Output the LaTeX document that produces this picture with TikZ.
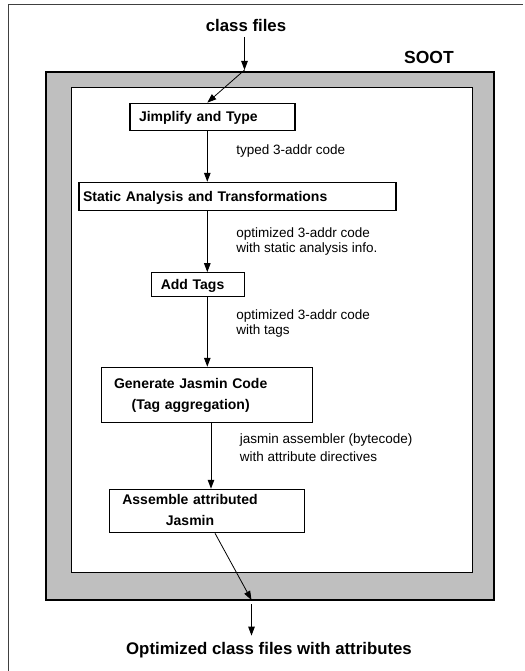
\documentclass[tikz,border=0pt]{standalone}
\usepackage{fontspec}
\setmainfont{Liberation Sans}
\usetikzlibrary{positioning,calc,arrows.meta}
\newcommand\headfont{\fontsize{16.8}{20}\selectfont\bfseries}
\newcommand\sootfont{\fontsize{17.5}{21}\selectfont\bfseries}
\newcommand\stagefont{\fontsize{14}{21}\selectfont\bfseries}
\newcommand\notefont{\fontsize{13.5}{15.5}\selectfont}
\newcommand\widenotefont{\fontsize{13.5}{18}\selectfont}
\definecolor{sootgray}{gray}{0.75}
\tikzset{
  >={Triangle[length=9pt,width=6.5pt]},
  my frame/.style={draw=black!75,line width=1pt},
  my shell/.style={draw,line width=1.5pt,fill=sootgray,inner sep=0pt},
  my core/.style={draw,line width=1pt,fill=white,inner sep=0pt},
  my stage/.style={
    draw,
    rectangle,
    line width=1.1pt,
    inner ysep=0pt,
    align=left,
    font=\stagefont
  },
  my flat/.style={my stage,text height=10.5pt,text depth=0pt},
  my note/.style={inner sep=0pt,align=left,anchor=base west,font=\notefont},
  my head/.style={inner sep=0pt,anchor=base,font=\headfont},
  my flow/.style={->,line width=1pt},
  my slant/.style={->,line width=0.8pt}
}
\begin{document}
\begin{tikzpicture}[x=1pt,y=-1pt]
\useasboundingbox (0,0) rectangle (524,671);
% page edge
\draw[my frame] (8,671) -- (8,5) -- (523,5);
% SOOT shell
\node[my shell,minimum width=448pt,minimum height=528pt] (soot) at (270,336) {};
\node[my core,minimum width=401pt,minimum height=484pt] (core) at (271.5,330) {};
\node[inner sep=0pt,anchor=base west,font=\sootfont] (sootname) at (404,64) {SOOT};
\coordinate (spine) at (207.3,0);
\coordinate (spine2) at (211,0);
% Input
\node[my head,inner sep=5pt] (cls) at (246,31.5) {class files};
\coordinate (entry) at (244.5,70);
\draw[my flow] (cls.south -| entry) -- (entry);
% Jimplify
\node[my flat,text width=147pt,inner xsep=9pt,minimum height=27pt] (jimp) at (212.5,116.7) {Jimplify and Type};
\draw[my slant] (entry) -- (jimp.north -| spine);
% Static analysis
\node[my flat,text width=309pt,inner xsep=4pt,minimum height=27.7pt] (stat) at (237.5,196.2) {Static Analysis and Transformations};
\draw[my flow] (jimp.south -| spine) -- node[my note,xshift=28.5pt,yshift=2pt] {typed 3-addr code} (stat.north -| spine);
% Tags
\node[my flat,text width=74pt,inner xsep=9.5pt,minimum height=24pt] (tags) at (197.8,284.7) {Add Tags};
\draw[my flow] (stat.south -| spine) -- node[my note,xshift=28.5pt,yshift=-11.5pt] {optimized 3-addr code\\with static analysis info.} (tags.north -| spine);
% Jasmin generation
\node[my stage,text width=185.3pt,inner xsep=13pt,minimum height=55pt] (gen) at (206.7,394.8) {\begin{tabular}{@{}c@{}}Generate Jasmin Code\\(Tag aggregation)\end{tabular}};
\draw[my flow] (tags.south -| spine) -- node[my note,xshift=28.5pt,yshift=-2.8pt] {optimized 3-addr code\\with tags} (gen.north -| spine);
% Assembly
\node[my stage,text width=168.7pt,inner xsep=13pt,minimum height=43.4pt] (asm) at (206.7,511) {\begin{tabular}{@{}c@{}}Assemble attributed\\Jasmin\end{tabular}};
\draw[my flow] (gen.south -| spine2) -- node[my note,font=\widenotefont,xshift=28.3pt,yshift=-5.2pt] {jasmin assembler (bytecode)\\with attribute directives} (asm.north -| spine2);
% Output
\coordinate (exit) at (251.5,600);
\draw[my slant] ([xshift=8.3pt]asm.south) -- (exit);
\node[my head,inner sep=6pt] (out) at (269,654) {Optimized class files with attributes};
\draw[my flow] ([yshift=-4pt]exit) -- (out.north -| exit);
\end{tikzpicture}
\end{document}
